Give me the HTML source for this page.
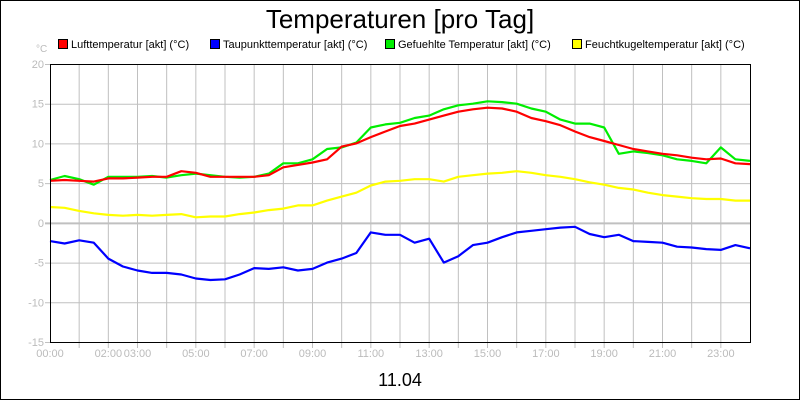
<!DOCTYPE html>
<html><head><meta charset="utf-8"><style>
body{margin:0;background:#fff}
svg{display:block;font-family:"Liberation Sans",sans-serif}
</style></head><body>
<svg id="c" width="800" height="400">
<rect x="0.5" y="0.5" width="799" height="399" fill="#fff" stroke="#000"/>
<text x="400" y="28" font-size="26" text-anchor="middle">Temperaturen [pro Tag]</text>
<text x="36" y="52" font-size="10" fill="#bbb">°C</text>
<g id="legend"></g>
<g id="grid"></g>
<g id="series"></g>
<rect x="50.5" y="64.5" width="700" height="278" fill="none" stroke="#000"/>
<text x="400" y="386" font-size="18" text-anchor="middle">11.04</text>
</svg>
<script>
const yTicks=[20,15,10,5,0,-5,-10,-15];
const xLabelHours=[0,2,3,5,7,9,11,13,15,17,19,21,23];
const seriesNames=["Lufttemperatur [akt] (°C)","Taupunkttemperatur [akt] (°C)","Gefuehlte Temperatur [akt] (°C)","Feuchtkugeltemperatur [akt] (°C)"];
const seriesColors=["#f00","#00f","#0e0","#ff0"];
const luft=[5.3,5.4,5.3,5.2,5.6,5.6,5.7,5.8,5.8,6.5,6.3,5.8,5.8,5.8,5.8,6.0,7.0,7.3,7.6,8.0,9.6,10.0,10.8,11.5,12.2,12.5,13.0,13.5,14.0,14.3,14.5,14.4,14.0,13.2,12.8,12.3,11.5,10.8,10.3,9.8,9.3,9.0,8.7,8.5,8.2,8.0,8.1,7.5,7.4];
const taupunkt=[-2.3,-2.6,-2.2,-2.5,-4.5,-5.5,-6.0,-6.3,-6.3,-6.5,-7.0,-7.2,-7.1,-6.5,-5.7,-5.8,-5.6,-6.0,-5.8,-5.0,-4.5,-3.8,-1.2,-1.5,-1.5,-2.5,-2.0,-5.0,-4.2,-2.8,-2.5,-1.8,-1.2,-1.0,-0.8,-0.6,-0.5,-1.4,-1.8,-1.5,-2.3,-2.4,-2.5,-3.0,-3.1,-3.3,-3.4,-2.8,-3.2];
const gefuehlt=[5.4,5.9,5.5,4.8,5.8,5.8,5.8,5.9,5.7,6.0,6.2,6.0,5.8,5.7,5.8,6.2,7.5,7.5,8.0,9.3,9.5,10.1,12.0,12.4,12.6,13.2,13.5,14.3,14.8,15.0,15.3,15.2,15.0,14.4,14.0,13.0,12.5,12.5,12.0,8.7,9.0,8.8,8.5,8.0,7.8,7.5,9.5,8.0,7.8];
const feucht=[2.0,1.9,1.5,1.2,1.0,0.9,1.0,0.9,1.0,1.1,0.7,0.8,0.8,1.1,1.3,1.6,1.8,2.2,2.2,2.8,3.3,3.8,4.7,5.2,5.3,5.5,5.5,5.2,5.8,6.0,6.2,6.3,6.5,6.3,6.0,5.8,5.5,5.1,4.8,4.4,4.2,3.8,3.5,3.3,3.1,3.0,3.0,2.8,2.8];
const NS="http://www.w3.org/2000/svg";
const X0=50,X1=750,Y0=64,Y1=342,YMIN=-15,YMAX=20;
const xs=h=>X0+(X1-X0)*h/24;
const ys=v=>Y1-(Y1-Y0)*(v-YMIN)/(YMAX-YMIN);
function mk(tag,attrs,parent){const e=document.createElementNS(NS,tag);for(const k in attrs)e.setAttribute(k,attrs[k]);parent.appendChild(e);return e;}
const grid=document.getElementById('grid');
for(let h=1;h<24;h++){
  const l=mk('line',{x1:xs(h),x2:xs(h),y1:Y0,y2:Y1+6,stroke:'#c0c0c0'},grid);
  
  
}
yTicks.forEach(v=>{
  const l=mk('line',{x1:X0-5,x2:X1,y1:ys(v)+0.5,y2:ys(v)+0.5,stroke:'#c0c0c0','stroke-width':v===0?2:1},grid);
  
  
  const t=mk('text',{x:X0-6,y:ys(v)+4,'font-size':11,fill:'#bbb','text-anchor':'end'},grid);
  t.textContent=v;
  
  
});
xLabelHours.forEach(h=>{
  const t=mk('text',{x:xs(h),y:357,'font-size':11,fill:'#bbb','text-anchor':'middle'},grid);
  t.textContent=String(h).padStart(2,'0')+':00';
  
  
});
const sg=document.getElementById('series');
const order=[[feucht,3],[taupunkt,1],[gefuehlt,2],[luft,0]];
order.forEach(([arr,i])=>{
  const pts=arr.map((v,k)=>xs(k*0.5).toFixed(1)+','+ys(v).toFixed(1)).join(' ');
  const p=mk('polyline',{points:pts,fill:'none',stroke:seriesColors[i],'stroke-width':2.2,'stroke-linejoin':'round'},sg);
  
  
});
const lg=document.getElementById('legend');
const lx=[58,210,385,572];
seriesNames.forEach((n,i)=>{
  const r=mk('rect',{x:lx[i]+0.5,y:39.5,width:9,height:9,fill:seriesColors[i],stroke:'#000'},lg);
  
  
  const t=mk('text',{x:lx[i]+13,y:48,'font-size':11},lg);
  t.textContent=n;
  
  
});
</script>
</body></html>
